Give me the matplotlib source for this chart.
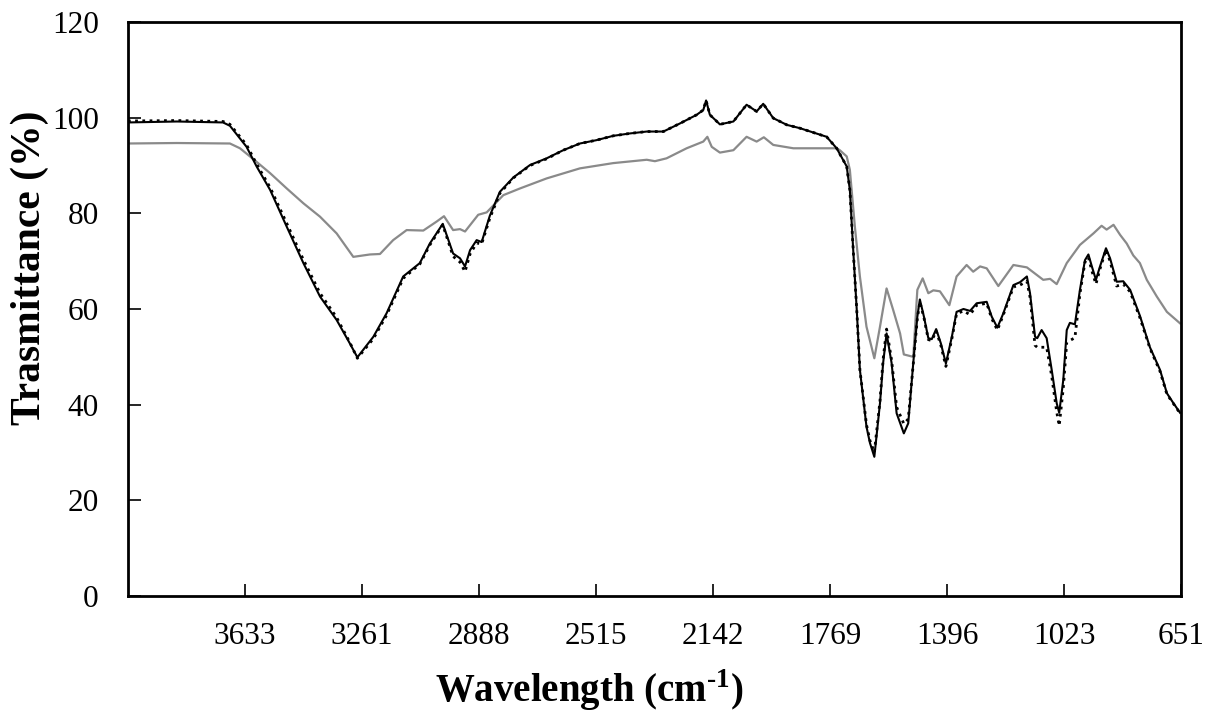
import matplotlib
matplotlib.use("Agg")
import matplotlib.pyplot as plt
import numpy as np

plt.rcParams['font.family'] = ['Liberation Serif', 'DejaVu Serif']
plt.rcParams['mathtext.fontset'] = 'custom'
plt.rcParams['mathtext.rm'] = 'Liberation Serif:bold'
plt.rcParams['mathtext.bf'] = 'Liberation Serif:bold'

# ---- data (wavenumber cm-1, transmittance %) ----
black_w = [4006, 3850, 3703, 3681, 3628, 3596, 3553, 3500, 3447, 3394, 3341, 3299, 3275,
           3224, 3182, 3129, 3076, 3044, 3003, 2970, 2948, 2932, 2916, 2895, 2879, 2853,
           2821, 2778, 2725, 2672, 2619, 2566, 2513, 2460, 2407, 2353, 2300, 2247, 2194,
           2173, 2164, 2152, 2120, 2077, 2035, 2003, 1982, 1950, 1907, 1865, 1780, 1748,
           1716, 1706, 1695, 1684, 1674, 1653, 1642, 1628, 1610, 1600, 1589, 1573, 1557,
           1534, 1520, 1504, 1491, 1483, 1470, 1456, 1445, 1431, 1416, 1400, 1381, 1366,
           1344, 1323, 1302, 1270, 1254, 1236, 1217, 1185, 1164, 1142, 1132, 1116, 1109,
           1095, 1079, 1063, 1047, 1039, 1026, 1015, 1005, 989, 973, 957, 946, 935, 922,
           909, 890, 877, 856, 835, 813, 782, 750, 718, 696, 675, 654]
black_v = [99.0, 99.2, 99.0, 98.3, 93.9, 89.8, 84.9, 77.2, 69.6, 62.6, 57.7, 52.8, 49.9,
           54.2, 59.1, 66.8, 69.6, 73.7, 77.8, 71.6, 70.6, 68.9, 72.3, 74.4, 74.0, 79.5,
           84.5, 87.5, 90.1, 91.5, 93.2, 94.6, 95.3, 96.2, 96.7, 97.1, 97.1, 98.8, 100.6,
           101.6, 103.6, 100.6, 98.6, 99.2, 102.7, 101.3, 102.9, 99.9, 98.5, 97.8, 96.0, 93.6,
           89.8, 84.9, 72.0, 59.8, 47.3, 35.4, 32.0, 29.1, 40.3, 48.7, 54.9, 48.7, 38.2,
           34.0, 36.1, 48.7, 58.4, 62.0, 58.4, 53.9, 53.7, 55.8, 52.8, 48.6, 54.2, 59.4,
           60.0, 59.6, 61.2, 61.5, 58.4, 56.1, 59.1, 65.0, 65.6, 66.8, 63.3, 54.2, 53.9,
           55.6, 53.9, 47.3, 40.3, 38.3, 45.2, 55.6, 57.1, 56.8, 64.0, 70.2, 71.4, 68.9, 66.1,
           68.9, 72.7, 70.6, 65.7, 65.8, 64.0, 58.6, 52.0, 47.3, 42.4, 40.3, 38.3]

dotted_w = black_w
dotted_v = [99.3, 99.4, 99.2, 98.6, 94.3, 90.3, 85.4, 77.9, 70.3, 63.3, 58.2, 53.0, 49.7,
            53.8, 58.7, 66.4, 69.4, 73.4, 77.6, 71.0, 69.8, 67.8, 71.5, 73.8, 73.6, 79.0,
            84.2, 87.4, 90.0, 91.4, 93.2, 94.6, 95.3, 96.2, 96.7, 97.1, 97.1, 98.8, 100.6,
            101.6, 103.6, 100.6, 98.6, 99.2, 102.7, 101.3, 102.9, 99.9, 98.5, 97.8, 96.0, 93.6,
            89.8, 84.9, 72.0, 59.8, 47.3, 35.8, 32.5, 30.0, 40.8, 49.5, 55.8, 49.3, 39.5,
            36.0, 37.0, 48.5, 58.0, 61.5, 58.2, 53.6, 53.4, 55.4, 52.4, 48.0, 53.8, 59.0,
            59.6, 58.8, 60.8, 61.2, 58.0, 55.6, 58.8, 64.6, 65.0, 65.8, 62.5, 52.4, 52.0,
            52.0, 52.0, 46.0, 38.5, 35.6, 43.5, 53.0, 53.4, 54.0, 63.2, 69.8, 70.8, 68.0, 65.2,
            68.4, 72.4, 70.0, 64.8, 65.2, 63.6, 58.2, 51.8, 47.0, 42.2, 40.2, 38.2]

gray_w = [4006, 3850, 3681, 3649, 3606, 3553, 3500, 3447, 3394, 3341, 3288, 3235, 3203,
          3161, 3118, 3065, 3022, 2999, 2970, 2948, 2932, 2890, 2863, 2810, 2757, 2672,
          2566, 2460, 2353, 2327, 2290, 2226, 2173, 2160, 2146, 2120, 2077, 2035, 2003,
          1980, 1950, 1886, 1780, 1748, 1738, 1716, 1706, 1690, 1674, 1653, 1628, 1610,
          1589, 1568, 1546, 1534, 1504, 1491, 1474, 1456, 1440, 1419, 1389, 1366, 1334,
          1313, 1291, 1270, 1233, 1185, 1142, 1090, 1068, 1047, 1015, 973, 930, 904, 888,
          866, 845, 824, 803, 782, 760, 728, 696, 654]
gray_v = [94.6, 94.7, 94.6, 93.6, 91.3, 88.4, 85.2, 82.1, 79.3, 75.8, 70.9, 71.4, 71.5,
          74.4, 76.5, 76.4, 78.3, 79.4, 76.5, 76.7, 76.2, 79.7, 80.2, 83.8, 85.2, 87.3,
          89.4, 90.5, 91.2, 90.9, 91.5, 93.6, 95.0, 96.0, 93.9, 92.7, 93.2, 96.0, 95.0,
          95.9, 94.3, 93.6, 93.6, 93.6, 93.2, 91.9, 89.1, 77.2, 66.8, 56.3, 49.7, 56.3,
          64.3, 59.8, 54.9, 50.5, 50.0, 64.0, 66.4, 63.3, 63.9, 63.7, 60.8, 66.8, 69.2,
          67.8, 68.9, 68.5, 64.8, 69.2, 68.7, 66.1, 66.3, 65.2, 69.6, 73.4, 75.8, 77.4, 76.6,
          77.6, 75.5, 73.7, 71.2, 69.6, 66.1, 62.6, 59.4, 57.0]

xticks = [3633, 3261, 2888, 2515, 2142, 1769, 1396, 1023, 651]
yticks = [0, 20, 40, 60, 80, 100, 120]

fig = plt.figure(figsize=(12.11, 7.17), dpi=100)
ax = fig.add_axes([128/1211, 1 - 596/717, (1181-128)/1211, (596-22)/717])

ax.plot(gray_w, gray_v, color='#8a8a8a', lw=1.6)
ax.plot(dotted_w, dotted_v, color='black', lw=2.0, ls=(0, (1, 1.6)))
ax.plot(black_w, black_v, color='black', lw=1.5)

ax.set_xlim(4005.75, 651)
ax.set_ylim(0, 120)
ax.set_xticks(xticks)
ax.set_xticklabels([str(t) for t in xticks])
ax.set_yticks(yticks)
ax.tick_params(axis='both', direction='in', length=9, width=1.2, labelsize=22.5)
ax.tick_params(axis='x', pad=19)
ax.tick_params(axis='y', pad=21)
for s in ax.spines.values():
    s.set_linewidth(2)
    s.set_color('black')

fig.text(589/1211, 1 - 690/717, r'Wavelength (cm$^{\text{-1}}$)', fontsize=28,
         fontweight='bold', ha='center', va='center')
fig.text(30/1211, 1 - 268/717, 'Trasmittance (%)', fontsize=30,
         fontweight='bold', ha='center', va='center', rotation=90)

fig.savefig('out.png', dpi=100)
